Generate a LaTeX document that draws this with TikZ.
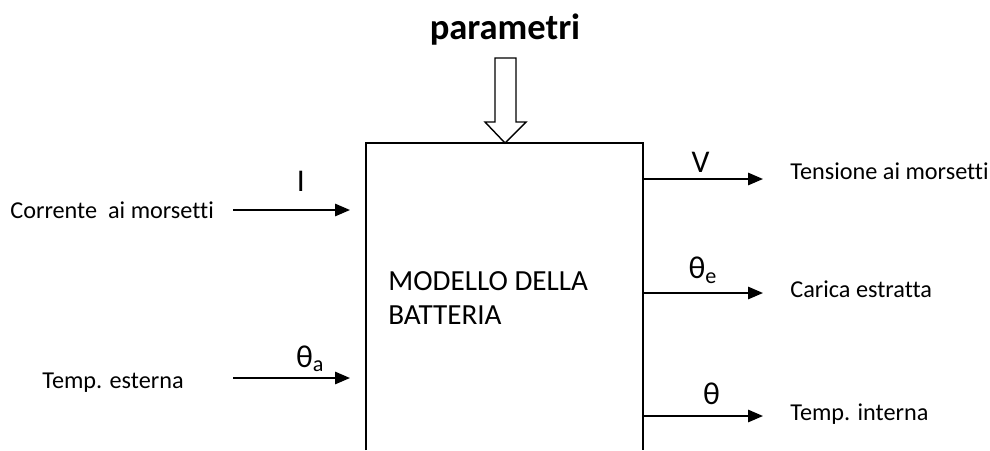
\documentclass[tikz,border=0pt]{standalone}
\usepackage{fontspec}
\setmainfont{Carlito}[Ligatures=NoCommon]
\usetikzlibrary{arrows.meta, positioning}
\tikzset{
  lbl/.style={font=\fontsize{13.8}{15}\selectfont, inner sep=0pt},
  sym/.style={font=\fontsize{18}{19}\selectfont, inner sep=0pt},
  sig/.style={-{Triangle[length=8.5pt, width=7pt]}, line width=1.1pt},
  frame/.style={line width=1.1pt}
}
\begin{document}
\begin{tikzpicture}[x=0.02cm, y=-0.02cm]
  \useasboundingbox (0,0) rectangle (990,450);

  % --- Box ---
  \coordinate (bnw) at (366,143);
  \coordinate (bse) at (643,450);
  \draw[frame] (bnw |- bse) -- (bnw) -- (bnw -| bse) -- (bse);
  \node[lbl, anchor=west, align=left, font=\fontsize{16.6}{19.8}\selectfont] (modello) at (388,298)
    {MODELLO DELLA\\BATTERIA};

  % --- Parametri ---
  \node[font=\fontsize{20.8}{22}\selectfont\bfseries, inner sep=0pt] (param) at (505,30) {parametri};
  \coordinate (tip) at (505,143);
  \draw[line width=0.8pt, fill=white] (495,58) -- (516,58) -- (516,122) -- (526,122)
    -- (tip) -- (485,122) -- (495,122) -- cycle;

  % --- Inputs ---
  \coordinate (iIs) at (233,210);
  \coordinate (iIe) at (350,210);
  \coordinate (iAs) at (233,378);
  \coordinate (iAe) at (350,378);
  \node[lbl, anchor=west] (corr) at (10,210) {Corrente\ \ ai morsetti};
  \node[lbl, anchor=west] (test) at (42,383) {Temp. esterna};
  \draw[sig] (iIs) -- (iIe) node[sym, pos=0.58, above=10pt] (lI) {I};
  \draw[sig] (iAs) -- (iAe) node[sym, pos=0.66, above=3pt] (lA) {θ\textsubscript{a}};

  % --- Outputs ---
  \coordinate (oV) at (643,179);
  \coordinate (oVe) at (763,179);
  \coordinate (oE) at (643,293);
  \coordinate (oEe) at (763,293);
  \coordinate (oT) at (643,416);
  \coordinate (oTe) at (763,416);
  \draw[sig] (oV) -- (oVe) node[sym, pos=0.48, above=3pt] (lV) {V};
  \draw[sig] (oE) -- (oEe) node[sym, pos=0.5, above=5pt] (lE) {θ\textsubscript{e}};
  \draw[sig] (oT) -- (oTe) node[sym, pos=0.57, above=6pt] (lT) {θ};
  \node[lbl, anchor=west] (tens) at (790,171) {Tensione ai morsetti};
  \node[lbl, anchor=west] (car) at (790,289) {Carica estratta};
  \node[lbl, anchor=west] (tint) at (790,414) {Temp. interna};
\end{tikzpicture}
\end{document}
